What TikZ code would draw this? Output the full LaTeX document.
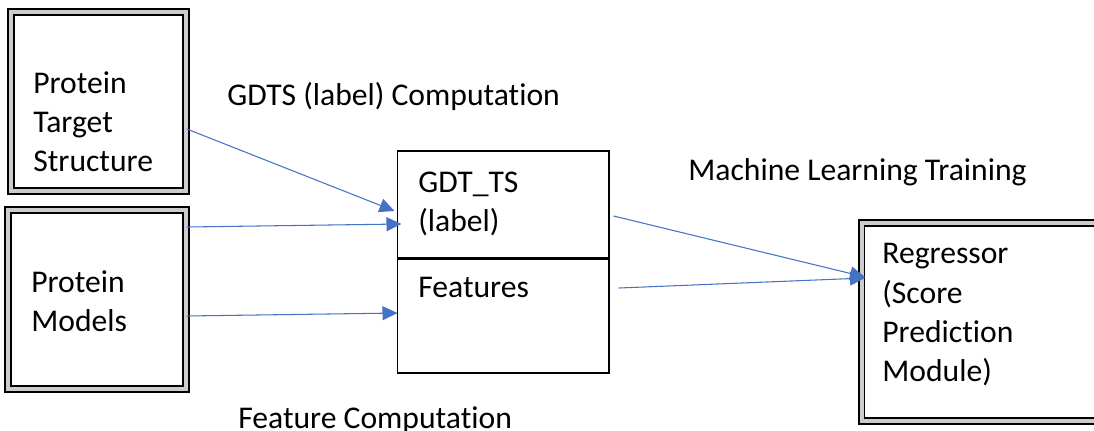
\documentclass[tikz,border=0pt]{standalone}
\usepackage{fontspec}
\setmainfont[Ligatures=NoCommon]{Carlito}
\usepackage{tikz}
\usetikzlibrary{positioning,arrows.meta}
\definecolor{arrowblue}{RGB}{68,114,196}
\tikzstyle{bevel}   = [rectangle, draw=black, line width=0.9pt, double=gray!40, double distance=2.4pt, fill=white, inner sep=0pt]
\tikzstyle{plain}   = [rectangle, draw=black, line width=0.6pt, fill=white, inner sep=0pt]
\tikzstyle{txt}     = [font=\fontsize{18}{22.4}\selectfont, inner sep=0pt, align=left, anchor=base west]
\tikzstyle{arrow}   = [arrowblue, line width=0.6pt, -{Triangle[length=0.3cm,width=0.28cm]}]

\begin{document}
\begin{tikzpicture}[x=0.02cm, y=-0.02cm]
		\useasboundingbox (0,0) rectangle (1094,431);
		\clip (0,0) rectangle (1094,431);
		% boxes
		\node[bevel, minimum width=3.5cm, minimum height=3.58cm] (target) at (98.5,101.5) {};
		\node[bevel, minimum width=3.56cm, minimum height=3.58cm] (models) at (97,299.5) {};
		\node[plain, minimum width=4.24cm, minimum height=2.14cm] (gdt) at (503,204.5) {};
		\node[plain, minimum width=4.24cm, minimum height=2.28cm, below=0pt of gdt] (feat) {};
		\node[bevel, anchor=west, minimum width=10cm, minimum height=3.96cm] (reg) at (861,322) {};
		% texts (base = last line)
		\node[txt] (targettxt) at (33,172) {Protein\\Target\\Structure};
		\node[txt] (modelstxt) at (31,332) {Protein\\Models};
		\node[txt] (gdttxt) at (418,232) {GDT\_TS\\(label)};
		\node[txt] (feattxt) at (418,298) {Features};
		\node[txt] (regtxt) at (882,382) {Regressor\\(Score\\Prediction\\Module)};
		\node[txt] (gdtslbl) at (227,106) {GDTS (label) Computation};
		\node[txt] (mllbl) at (688,181) {Machine Learning Training};
		\node[txt] (featlbl) at (238,429) {Feature Computation};
		% connectors
		\draw[arrow] ([yshift=-0.55cm]target.east) -- ([xshift=-0.04cm,yshift=-0.13cm]gdt.west);
		\draw[arrow] ([yshift=1.45cm]models.east) -- ([xshift=0.1cm,yshift=-0.39cm]gdt.west);
		\draw[arrow] ([yshift=-0.33cm]models.east) -- ([xshift=0.02cm,yshift=0.06cm]feat.west);
		\draw[arrow] ([xshift=0.08cm,yshift=-0.23cm]gdt.east) -- ([xshift=0.08cm,yshift=0.9cm]reg.west);
		\draw[arrow] ([xshift=0.18cm,yshift=0.56cm]feat.east) -- ([xshift=0.08cm,yshift=0.88cm]reg.west);
	\end{tikzpicture}
\end{document}
